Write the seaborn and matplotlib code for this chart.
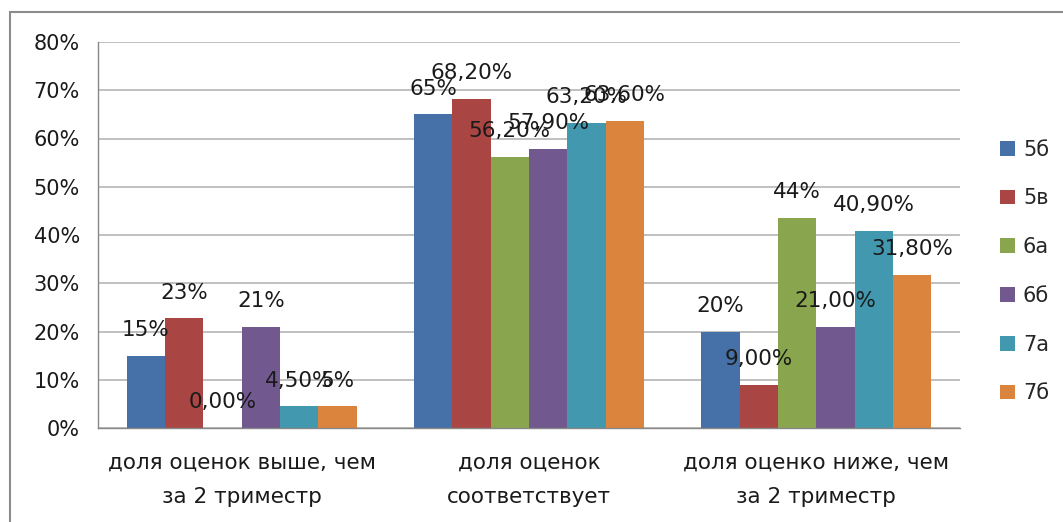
import pandas as pd
import matplotlib
matplotlib.use("Agg")
import matplotlib.pyplot as plt
from matplotlib.patches import Rectangle
import seaborn as sns

# data
categories = ["доля оценок выше, чем\nза 2 триместр",
              "доля оценок\nсоответствует",
              "доля оценко ниже, чем\nза 2 триместр"]
classes = ["5б", "5в", "6а", "6б", "7а", "7б"]
vals_5b = [0.15, 0.65, 0.20]
vals_5v = [0.227, 0.682, 0.089]
vals_6a = [0.0, 0.562, 0.435]
vals_6b = [0.21, 0.579, 0.21]
vals_7a = [0.045, 0.632, 0.409]
vals_7b = [0.045, 0.636, 0.318]
lab_5b = ["15%", "65%", "20%"]
lab_5v = ["23%", "68,20%", "9,00%"]
lab_6a = ["0,00%", "56,20%", "44%"]
lab_6b = ["21%", "57,90%", "21,00%"]
lab_7a = ["4,50%", "63,20%", "40,90%"]
lab_7b = ["5%", "63,60%", "31,80%"]
yticks = [0, 0.1, 0.2, 0.3, 0.4, 0.5, 0.6, 0.7, 0.8]
ytick_labels = ["0%", "10%", "20%", "30%", "40%", "50%", "60%", "70%", "80%"]

colors = ["#4571A8", "#A94542", "#89A54E", "#71588F", "#4198AF", "#DB843D"]

all_vals = [vals_5b, vals_5v, vals_6a, vals_6b, vals_7a, vals_7b]
all_labs = [lab_5b, lab_5v, lab_6a, lab_6b, lab_7a, lab_7b]
rows = []
for cls, vals in zip(classes, all_vals):
    for cat, v in zip(categories, vals):
        rows.append({"cat": cat, "cls": cls, "val": v})
df = pd.DataFrame(rows)

sns.set_style("white")
plt.rcParams["font.family"] = ["DejaVu Sans"]

fig = plt.figure(figsize=(10.63, 5.22), dpi=100)
ax = fig.add_axes([98 / 1063, 1 - 428 / 522, 862 / 1063, 386 / 522])

sns.barplot(data=df, x="cat", y="val", hue="cls", order=categories,
            hue_order=classes, palette=colors, width=0.8, saturation=1,
            linewidth=0, ax=ax, legend=True)

# data labels above each bar (overlaps as in the original)
for cont, labs in zip(ax.containers, all_labs):
    for bar, lab in zip(cont, labs):
        ax.annotate(lab, (bar.get_x() + bar.get_width() / 2, bar.get_height()),
                    xytext=(0, 18.5), textcoords="offset points",
                    ha="center", va="center", fontsize=15.5, color="#1a1a1a")

ax.set_ylim(0, 0.8)
ax.set_xlim(-0.5, 2.5)
ax.set_yticks(yticks)
ax.set_yticklabels(ytick_labels, fontsize=15, color="#1a1a1a")
ax.set_xticks([0, 1, 2])
ax.set_xticklabels(categories, fontsize=15.5, color="#1a1a1a", linespacing=1.9)
ax.set_xticks([-0.5, 0.5, 1.5, 2.5], minor=True)
ax.tick_params(axis="x", which="major", length=0, pad=18)
ax.tick_params(axis="x", which="minor", length=8, color="#888888", width=1)
ax.tick_params(axis="y", length=8, color="#999999", width=1, pad=5)
ax.set_xlabel("")
ax.set_ylabel("")
ax.yaxis.grid(True, color="#BBBBBB", linewidth=1.3)
ax.set_axisbelow(True)
for s in ["top", "right"]:
    ax.spines[s].set_visible(False)
for s in ["left", "bottom"]:
    ax.spines[s].set_color("#888888")
    ax.spines[s].set_linewidth(1)

handles, labels = ax.get_legend_handles_labels()
ax.legend(handles, labels, loc="center left", bbox_to_anchor=(0.931, 0.48),
          bbox_transform=fig.transFigure, frameon=False, fontsize=15,
          handlelength=0.7, handleheight=0.7, handletextpad=0.4,
          labelspacing=1.38, borderpad=0)

# outer chart border (cut at right and bottom in the reference)
fig.patches.append(Rectangle((10 / 1063, -0.1), 1.2, 1 - 12 / 522 + 0.1,
                             transform=fig.transFigure, fill=False,
                             edgecolor="#8c8c8c", linewidth=1.5))

fig.savefig("out.png", dpi=100)
